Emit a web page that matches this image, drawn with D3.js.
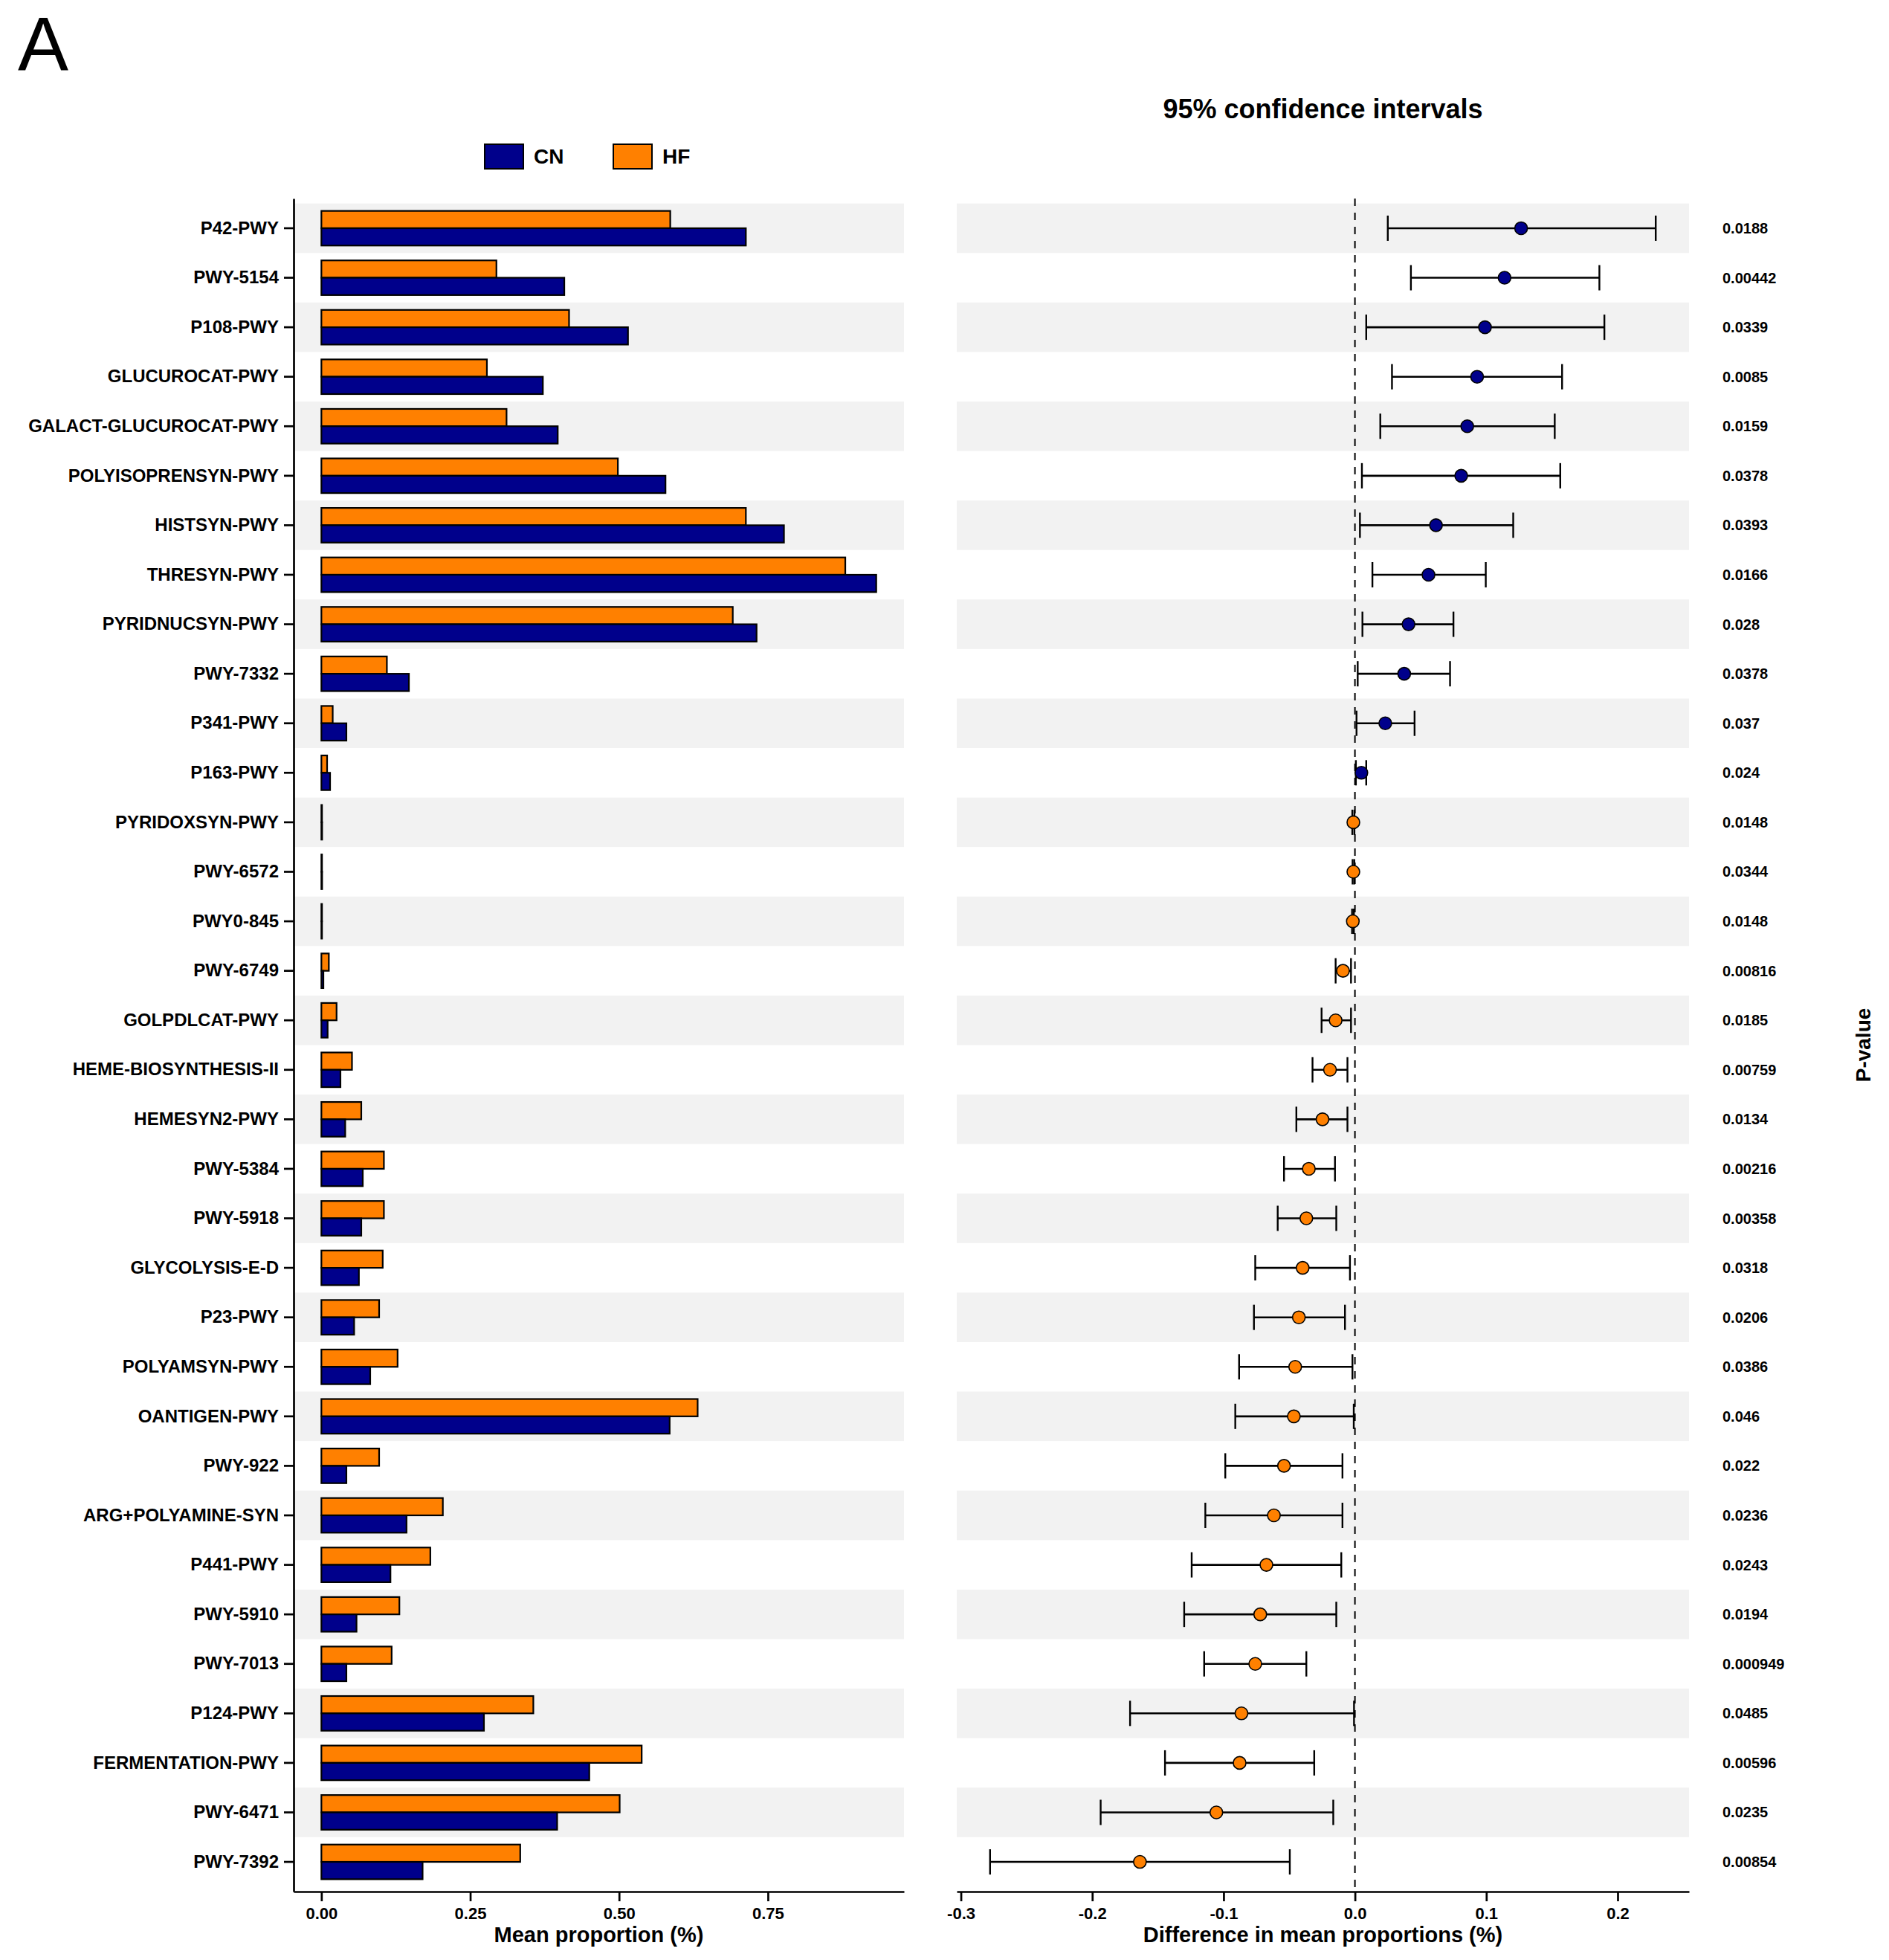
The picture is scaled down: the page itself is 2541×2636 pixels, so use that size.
<!DOCTYPE html>
<html>
<head>
<meta charset="utf-8">
<script src="https://cdn.jsdelivr.net/npm/d3@7"></script>
<style>
  body { margin: 0; background: #fff; }
  text { font-family: "Liberation Sans", Arial, sans-serif; }
</style>
</head>
<body>
<div id="graf"></div>
<script>
// datos (de arriba hacia abajo)
const pathways = ["P42-PWY", "PWY-5154", "P108-PWY", "GLUCUROCAT-PWY", "GALACT-GLUCUROCAT-PWY",
  "POLYISOPRENSYN-PWY", "HISTSYN-PWY", "THRESYN-PWY", "PYRIDNUCSYN-PWY", "PWY-7332", "P341-PWY",
  "P163-PWY", "PYRIDOXSYN-PWY", "PWY-6572", "PWY0-845", "PWY-6749", "GOLPDLCAT-PWY",
  "HEME-BIOSYNTHESIS-II", "HEMESYN2-PWY", "PWY-5384", "PWY-5918", "GLYCOLYSIS-E-D", "P23-PWY",
  "POLYAMSYN-PWY", "OANTIGEN-PWY", "PWY-922", "ARG+POLYAMINE-SYN", "P441-PWY", "PWY-5910",
  "PWY-7013", "P124-PWY", "FERMENTATION-PWY", "PWY-6471", "PWY-7392"]

const meanCN = [0.713, 0.408, 0.515, 0.372, 0.397, 0.578, 0.777, 0.932, 0.731, 0.147, 0.042,
  0.0146, 0.0012, 0.0012, 0.0010, 0.0034, 0.0105, 0.032, 0.040, 0.0695, 0.067, 0.063, 0.055,
  0.082, 0.585, 0.042, 0.143, 0.116, 0.059, 0.042, 0.273, 0.450, 0.396, 0.170]

const meanHF = [0.586, 0.294, 0.416, 0.278, 0.311, 0.498, 0.713, 0.880, 0.691, 0.110, 0.019,
  0.0096, 0.0010, 0.0010, 0.0010, 0.0125, 0.0255, 0.0514, 0.067, 0.105, 0.105, 0.103, 0.097,
  0.128, 0.632, 0.097, 0.204, 0.183, 0.131, 0.118, 0.356, 0.538, 0.501, 0.334]

const diffMean = [0.1265, 0.1139, 0.099, 0.093, 0.0855, 0.0809, 0.0617, 0.056, 0.0408, 0.0375,
  0.0231, 0.0049, -0.0012, -0.0012, -0.0016, -0.0091, -0.0147, -0.019, -0.0247, -0.0351, -0.037,
  -0.0398, -0.0427, -0.0455, -0.0465, -0.054, -0.0617, -0.0674, -0.0721, -0.0759, -0.0864,
  -0.0878, -0.1055, -0.1637]

const diffLow = [0.025, 0.0426, 0.0086, 0.0282, 0.0193, 0.0053, 0.0038, 0.0133, 0.0057, 0.0021,
  0.0012, 0.0007, -0.002, -0.0018, -0.0022, -0.0147, -0.0254, -0.0323, -0.0446, -0.054, -0.0588,
  -0.0759, -0.0769, -0.0882, -0.0911, -0.0987, -0.1139, -0.1243, -0.13, -0.1148, -0.1712,
  -0.1446, -0.1936, -0.2778]

const diffHigh = [0.229, 0.1861, 0.1899, 0.1577, 0.1521, 0.1563, 0.1205, 0.0996, 0.075, 0.0724,
  0.0454, 0.0086, -0.0004, -0.0005, -0.0008, -0.003, -0.003, -0.0057, -0.0057, -0.0152, -0.0142,
  -0.0038, -0.0076, -0.0019, -0.0009, -0.0095, -0.0095, -0.0104, -0.0142, -0.037, -0.0007,
  -0.031, -0.0165, -0.0496]

const pValues = ["0.0188", "0.00442", "0.0339", "0.0085", "0.0159", "0.0378", "0.0393", "0.0166",
  "0.028", "0.0378", "0.037", "0.024", "0.0148", "0.0344", "0.0148", "0.00816", "0.0185",
  "0.00759", "0.0134", "0.00216", "0.00358", "0.0318", "0.0206", "0.0386", "0.046", "0.022",
  "0.0236", "0.0243", "0.0194", "0.000949", "0.0485", "0.00596", "0.0235", "0.00854"]

const grupos = ["HF", "CN"]
const leyenda = ["CN", "HF"]
const colores = { CN: "#00008B", HF: "#FF8000" }

const meanTicks = [0, 0.25, 0.5, 0.75]
const diffTicks = [-0.3, -0.2, -0.1, 0, 0.1, 0.2]

const data = pathways.map((p, i) => ({
  name: p, CN: meanCN[i], HF: meanHF[i],
  diff: diffMean[i], lo: diffLow[i], hi: diffHigh[i], p: pValues[i]
}))

// dimensiones
const anchoTotal = 2541
const altoTotal = 2636
const yTop = 267, yBottom = 2544
const panel1 = [395, 1216]
const panel2 = [1287, 2272]

const svg = d3.select("#graf")
  .append("svg")
  .attr("width", anchoTotal)
  .attr("height", altoTotal)

// escaladores
const y = d3.scaleBand()
  .domain(pathways)
  .range([yTop, yBottom])
  .paddingInner(0)
  .paddingOuter(0.1)

const yGrupo = d3.scaleBand()
  .domain(grupos)
  .range([0, y.bandwidth() * 0.7])

const maxMean = d3.max(data, d => Math.max(d.CN, d.HF))
const pad1 = maxMean * 0.05
const x1 = d3.scaleLinear()
  .domain([-pad1, maxMean + pad1])
  .range(panel1)

const ciLo = d3.min(data, d => d.lo), ciHi = d3.max(data, d => d.hi)
const pad2 = (ciHi - ciLo) * 0.05
const x2 = d3.scaleLinear()
  .domain([ciLo - pad2, ciHi + pad2])
  .range(panel2)

// franjas grises
const franjas = data.filter((d, i) => i % 2 === 0)
const panels = [panel1, panel2]
panels.forEach(pn => {
  svg.append("g")
    .selectAll("rect")
    .data(franjas)
    .enter()
    .append("rect")
    .attr("x", pn[0])
    .attr("width", pn[1] - pn[0])
    .attr("y", d => y(d.name))
    .attr("height", y.bandwidth())
    .attr("fill", "#F2F2F2")
})

// barras
const barras = []
data.forEach(d => grupos.forEach(g => barras.push({ name: d.name, g: g, v: d[g] })))

svg.append("g")
  .selectAll("rect")
  .data(barras)
  .enter()
  .append("rect")
  .attr("x", x1(0))
  .attr("y", d => y(d.name) + y.bandwidth() * 0.15 + yGrupo(d.g))
  .attr("width", d => x1(d.v) - x1(0))
  .attr("height", yGrupo.bandwidth())
  .attr("fill", d => colores[d.g])
  .attr("stroke", "#000")
  .attr("stroke-width", 2.2)

// linea de cero
svg.append("line")
  .attr("x1", x2(0)).attr("x2", x2(0))
  .attr("y1", yTop).attr("y2", yBottom)
  .attr("stroke", "#000")
  .attr("stroke-width", 2)
  .attr("stroke-dasharray", "10,9")

// intervalos de confianza
const ic = svg.append("g")
  .selectAll("g")
  .data(data)
  .enter()
  .append("g")
  .attr("transform", d => `translate(0, ${y(d.name) + y.bandwidth() / 2})`)

ic.append("line")
  .attr("x1", d => x2(d.lo)).attr("x2", d => x2(d.hi))
  .attr("stroke", "#000").attr("stroke-width", 2.6)
ic.append("line")
  .attr("x1", d => x2(d.lo)).attr("x2", d => x2(d.lo))
  .attr("y1", -17).attr("y2", 17)
  .attr("stroke", "#000").attr("stroke-width", 2.4)
ic.append("line")
  .attr("x1", d => x2(d.hi)).attr("x2", d => x2(d.hi))
  .attr("y1", -17).attr("y2", 17)
  .attr("stroke", "#000").attr("stroke-width", 2.4)
ic.append("circle")
  .attr("cx", d => x2(d.diff))
  .attr("r", 8.5)
  .attr("fill", d => d.diff > 0 ? colores.CN : colores.HF)
  .attr("stroke", "#000")
  .attr("stroke-width", 1.6)

// valores p
svg.append("g")
  .selectAll("text")
  .data(data)
  .enter()
  .append("text")
  .attr("x", 2317)
  .attr("y", d => y(d.name) + y.bandwidth() / 2)
  .attr("dy", "0.35em")
  .attr("font-size", 20)
  .attr("font-weight", "bold")
  .text(d => d.p)

// ejes
const estiloEje = (g, size) => {
  g.attr("font-family", null).attr("font-size", null)
  g.select(".domain").attr("stroke-width", 2.7)
  g.selectAll(".tick line").attr("stroke-width", 2.7)
  g.selectAll(".tick text")
    .attr("font-size", size)
    .attr("font-weight", "bold")
    .attr("fill", "#000")
}

const yAxisGroup = svg.append("g")
  .attr("transform", `translate(${panel1[0]}, 0)`)
  .call(d3.axisLeft(y).tickSize(13).tickSizeOuter(0).tickPadding(7))
estiloEje(yAxisGroup, 24)

const xAxis1 = svg.append("g")
  .attr("transform", `translate(0, ${yBottom})`)
  .call(d3.axisBottom(x1).tickValues(meanTicks).tickFormat(d3.format(".2f"))
    .tickSize(13).tickSizeOuter(0).tickPadding(8))
estiloEje(xAxis1, 22)

const xAxis2 = svg.append("g")
  .attr("transform", `translate(0, ${yBottom})`)
  .call(d3.axisBottom(x2).tickValues(diffTicks).tickFormat(d => d.toFixed(1))
    .tickSize(13).tickSizeOuter(0).tickPadding(8))
estiloEje(xAxis2, 22)

// titulos
const titulo = (txt, x, yy, size) => svg.append("text")
  .attr("x", x).attr("y", yy)
  .attr("text-anchor", "middle")
  .attr("font-size", size)
  .attr("font-weight", "bold")
  .text(txt)

titulo("Mean proportion (%)", (panel1[0] + panel1[1]) / 2, 2612, 29)
titulo("Difference in mean proportions (%)", (panel2[0] + panel2[1]) / 2, 2612, 29)
titulo("95% confidence intervals", (panel2[0] + panel2[1]) / 2, 159, 36)

svg.append("text")
  .attr("transform", `translate(2516, ${(yTop + yBottom) / 2}) rotate(-90)`)
  .attr("text-anchor", "middle")
  .attr("font-size", 28)
  .attr("font-weight", "bold")
  .text("P-value")

svg.append("text")
  .attr("x", 24).attr("y", 95)
  .attr("font-size", 102)
  .text("A")

// leyenda
const legX = d3.scaleOrdinal().domain(leyenda).range([652, 825])
const leg = svg.append("g")
  .selectAll("g")
  .data(leyenda)
  .enter()
  .append("g")
  .attr("transform", d => `translate(${legX(d)}, 194)`)

leg.append("rect")
  .attr("width", 52).attr("height", 33)
  .attr("fill", d => colores[d])
  .attr("stroke", "#000").attr("stroke-width", 2)
leg.append("text")
  .attr("x", 66).attr("y", 26)
  .attr("font-size", 28)
  .attr("font-weight", "bold")
  .text(d => d)
</script>
</body>
</html>
